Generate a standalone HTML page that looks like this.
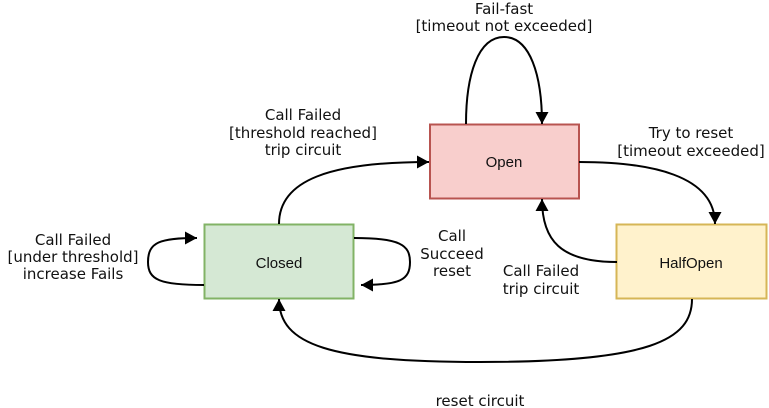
<!DOCTYPE html>
<html><head><meta charset="utf-8"><style>
body{margin:0;background:#fff;}
svg{display:block;}
.t{font-family:"DejaVu Sans",sans-serif;font-size:15px;fill:#111;text-anchor:middle;}
.b{font-family:"Liberation Sans",sans-serif;font-size:15px;fill:#111;text-anchor:middle;}
</style></head><body>
<svg width="769" height="408" viewBox="0 0 769 408">
<defs><marker id="a" markerWidth="14" markerHeight="14" refX="12" refY="6.5" orient="auto" markerUnits="userSpaceOnUse"><path d="M0,0 L12,6.5 L0,13 Z" fill="#000"/></marker></defs>
<rect x="430" y="124.5" width="149" height="74" fill="#f8cecc" stroke="#b85450" stroke-width="2"/>
<rect x="204.5" y="224.5" width="149" height="74" fill="#d5e8d4" stroke="#82b366" stroke-width="2"/>
<rect x="616.5" y="224.5" width="150" height="74" fill="#fff2cc" stroke="#d6b656" stroke-width="2"/>
<text class="b" x="504" y="167">Open</text>
<text class="b" x="279" y="268">Closed</text>
<text class="b" x="691" y="268">HalfOpen</text>
<g fill="none" stroke="#000" stroke-width="2" marker-end="url(#a)">
<path d="M466,124 C466,75 478,37 504,37 C530,37 542,75 542,124"/>
<path d="M279,224 C279,180 330,162 429,162"/>
<path d="M579,162 C650,162 715,175 715,224"/>
<path d="M617,262 C560,262 542,240 542,199"/>
<path d="M692,299 C692,340 650,362 480,362 C330,362 279,345 279,299"/>
<path d="M204,285 C160,285 148,280 148,262 C148,242 160,238 197,238"/>
<path d="M354,238 C400,238 410,245 410,262 C410,280 400,285 361,285"/>
</g>
<g class="t">
<text x="504" y="14">Fail-fast</text>
<text x="504" y="31">[timeout not exceeded]</text>
<text x="303" y="120">Call Failed</text>
<text x="303" y="138">[threshold reached]</text>
<text x="303" y="155">trip circuit</text>
<text x="691" y="138">Try to reset</text>
<text x="691" y="156">[timeout exceeded]</text>
<text x="73" y="245">Call Failed</text>
<text x="73" y="262">[under threshold]</text>
<text x="73" y="279">increase Fails</text>
<text x="452" y="241">Call</text>
<text x="452" y="259">Succeed</text>
<text x="452" y="276">reset</text>
<text x="541" y="276">Call Failed</text>
<text x="541" y="294">trip circuit</text>
<text x="480" y="406">reset circuit</text>
</g>
</svg>
</body></html>
